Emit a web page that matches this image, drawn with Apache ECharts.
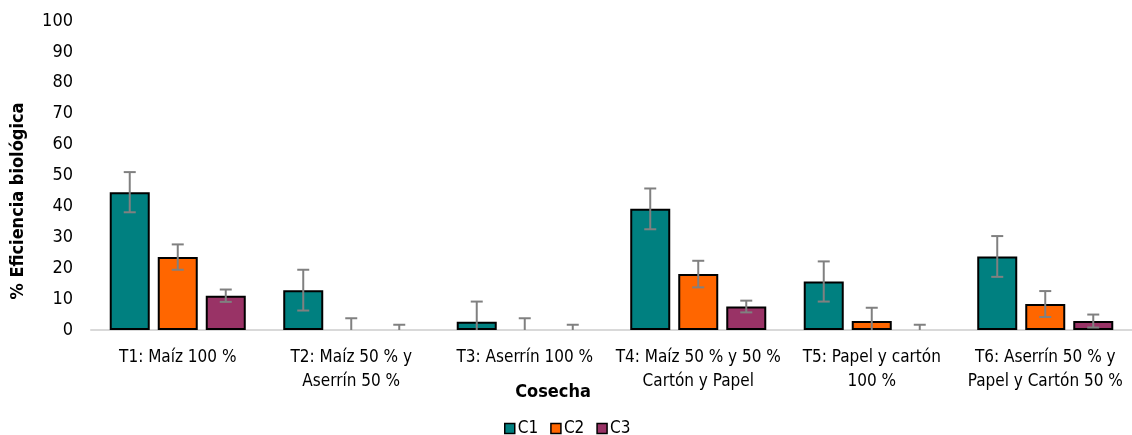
<!DOCTYPE html>
<html><head><meta charset="utf-8">
<script src="https://cdn.jsdelivr.net/npm/echarts@6/dist/echarts.min.js"></script>
<style>html,body{margin:0;padding:0;background:#fff}#c{width:1132px;height:435px}</style>
</head><body><div id="c"></div>
<script>
const categories = ["T1: Maíz 100 %", "T2: Maíz 50 % y\nAserrín 50 %", "T3: Aserrín 100 %", "T4: Maíz 50 % y 50 %\nCartón y Papel", "T5: Papel y cartón\n100 %", "T6: Aserrín 50 % y\nPapel y Cartón 50 %"];
const seriesNames = ["C1", "C2", "C3"];
const c1 = [44.6, 12.9, 2.7, 39.2, 15.7, 23.8];
const c2 = [23.6, 0, 0, 18.1, 2.9, 8.4];
const c3 = [11.1, 0, 0, 7.6, 0, 2.9];
const e1 = [6.5, 6.6, 6.5, 6.6, 6.5, 6.6];
const e2 = [4.1, 3.8, 3.8, 4.3, 4.3, 4.2];
const e3 = [2.0, 1.7, 1.7, 1.9, 1.7, 2.1];
const yTicks = [0, 10, 20, 30, 40, 50, 60, 70, 80, 90, 100];

const colors = ["#008080", "#FF6600", "#993366"];
const FONT = "'Liberation Sans Narrow', 'Arial Narrow', 'DejaVu Sans Condensed', sans-serif";
const values = [c1, c2, c3];
const errs = [e1, e2, e3];
const CAT_GAP = 0.216, BAR_GAP = 0.2;

const chart = echarts.init(document.getElementById('c'), null, {renderer: 'canvas'});

const barSeries = values.map((vals, s) => ({
  name: seriesNames[s], type: 'bar', z: 2,
  barGap: (BAR_GAP * 100) + '%', barCategoryGap: (CAT_GAP * 100) + '%',
  itemStyle: {color: colors[s], borderColor: '#000', borderWidth: 2},
  data: vals.map(v => v === 0 ? {value: v, itemStyle: {borderWidth: 0}} : v)
}));

const errSeries = values.map((vals, s) => ({
  type: 'custom', z: 5, silent: true,
  data: vals.map((v, i) => [i, v, errs[s][i]]),
  renderItem: function (params, api) {
    const ci = api.value(0), v = api.value(1), e = api.value(2);
    const band = api.size([1, 0])[0];
    const barW = band * (1 - CAT_GAP) / (3 + 2 * BAR_GAP);
    const off = (s - 1) * barW * (1 + BAR_GAP);
    const x = api.coord([ci, 0])[0] + off;
    const yTop = api.coord([ci, v + e])[1];
    const lo = Math.max(0, v - e);
    const yBot = api.coord([ci, lo])[1];
    const st = {stroke: '#808080', lineWidth: 2};
    const ch = [
      {type: 'line', shape: {x1: x, y1: yTop, x2: x, y2: yBot}, style: st},
      {type: 'line', shape: {x1: x - 6, y1: yTop, x2: x + 6, y2: yTop}, style: st}
    ];
    if (lo > 0) ch.push({type: 'line', shape: {x1: x - 6, y1: yBot, x2: x + 6, y2: yBot}, style: st});
    return {type: 'group', children: ch};
  }
}));

chart.setOption({
  animation: false,
  textStyle: {fontFamily: FONT},
  grid: {left: 91, right: 0, top: 21, bottom: 105, containLabel: false},
  xAxis: {
    type: 'category', data: categories,
    axisLine: {show: true, lineStyle: {color: '#d9d9d9', width: 2}},
    axisTick: {show: false},
    axisLabel: {interval: 0, color: '#000', fontSize: 17, lineHeight: 24, margin: 16, fontFamily: FONT}
  },
  yAxis: {
    type: 'value', min: yTicks[0], max: yTicks[yTicks.length - 1], interval: 10,
    splitLine: {show: false}, axisLine: {show: false}, axisTick: {show: false},
    axisLabel: {color: '#000', fontSize: 18, margin: 18, fontFamily: FONT}
  },
  legend: {
    data: seriesNames, top: 420, left: 504, itemWidth: 10, itemHeight: 10, itemGap: 12,
    icon: 'rect', padding: 0,
    itemStyle: {borderColor: '#000', borderWidth: 1.5},
    textStyle: {color: '#000', fontSize: 17, fontFamily: FONT, padding: [0, 0, 0, -2]}
  },
  graphic: [
    {type: 'text', style: {text: '% Eficiencia biológica', font: "bold 18px " + FONT, fill: '#000', textAlign: 'center', textVerticalAlign: 'middle'},
     x: 18, y: 201, rotation: Math.PI / 2},
    {type: 'text', style: {text: 'Cosecha', font: "bold 18px " + FONT, fill: '#000', textAlign: 'center', textVerticalAlign: 'middle'},
     x: 553, y: 392}
  ],
  series: [...barSeries, ...errSeries]
});
</script></body></html>
